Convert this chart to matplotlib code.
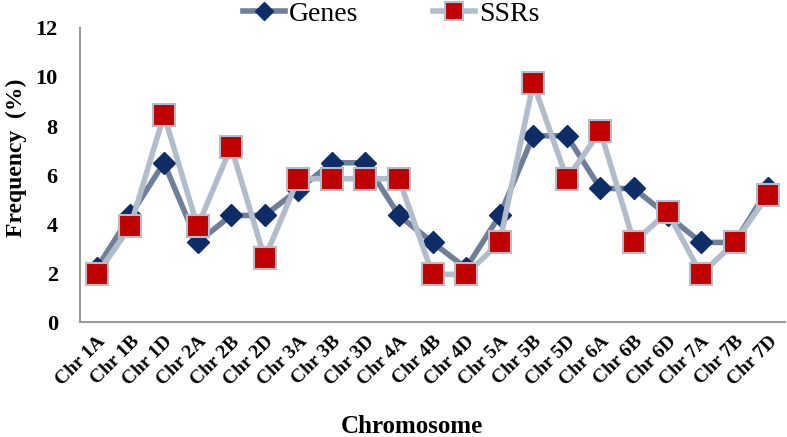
import matplotlib.pyplot as plt
import numpy as np

chromosomes = ["Chr 1A", "Chr 1B", "Chr 1D", "Chr 2A", "Chr 2B", "Chr 2D", "Chr 3A",
               "Chr 3B", "Chr 3D", "Chr 4A", "Chr 4B", "Chr 4D", "Chr 5A", "Chr 5B",
               "Chr 5D", "Chr 6A", "Chr 6B", "Chr 6D", "Chr 7A", "Chr 7B", "Chr 7D"]
genes = [2.2, 4.35, 6.5, 3.25, 4.35, 4.35, 5.4, 6.5, 6.5, 4.35, 3.25,
         2.2, 4.35, 7.6, 7.6, 5.45, 5.45, 4.35, 3.25, 3.25, 5.45]
ssrs = [1.95, 3.9, 8.45, 3.9, 7.15, 2.6, 5.85, 5.85, 5.85, 5.85, 1.95,
        1.95, 3.25, 9.75, 5.85, 7.8, 3.25, 4.5, 1.95, 3.25, 5.2]

plt.rcParams['font.family'] = ['Liberation Serif', 'DejaVu Serif']

fig = plt.figure(figsize=(7.87, 4.37), dpi=100)
ax = fig.add_axes([0.1017, 0.263, 0.8958, 0.673])

x = np.arange(len(chromosomes))
ax.plot(x, genes, color='#6f7f98', lw=4, marker='D', ms=11,
        mfc='#0e2d66', mec='#0e2d66', label='Genes', zorder=3)
ax.plot(x, ssrs, color='#b2bdcc', lw=4, marker='s', ms=16,
        mfc='#c00000', mec='#b2bdcc', mew=1.5, label='SSRs', zorder=4)

ax.set_xlim(-0.5, len(chromosomes) - 0.5)
ax.set_ylim(0, 12)
ax.set_yticks(range(0, 13, 2))
ax.set_xticks(x)
ax.set_xticklabels(chromosomes, rotation=45, ha='right', rotation_mode='anchor',
                   fontsize=14, fontweight='bold')
for lab in ax.get_yticklabels():
    lab.set_fontsize(16)
    lab.set_fontweight('bold')
ax.tick_params(axis='y', length=0, pad=16)
ax.tick_params(axis='x', length=0, pad=8)

for s in ['top', 'right']:
    ax.spines[s].set_visible(False)
for s in ['left', 'bottom']:
    ax.spines[s].set_color('#9a9a9a')
    ax.spines[s].set_linewidth(1.5)

ax.set_ylabel('Frequency  (%)', fontsize=17, fontweight='bold')
ax.yaxis.set_label_coords(-0.075, 0.56)
ax.set_xlabel('Chromosome', fontsize=18, fontweight='bold')
ax.xaxis.set_label_coords(0.47, -0.315)

fig.legend(loc='center', bbox_to_anchor=(0.497, 0.968), ncol=2, frameon=False,
           fontsize=20, handlelength=1.5, columnspacing=2.7, handletextpad=0.15,
           borderaxespad=0, borderpad=0, markerscale=0.8)

fig.savefig('out.png', dpi=100)
